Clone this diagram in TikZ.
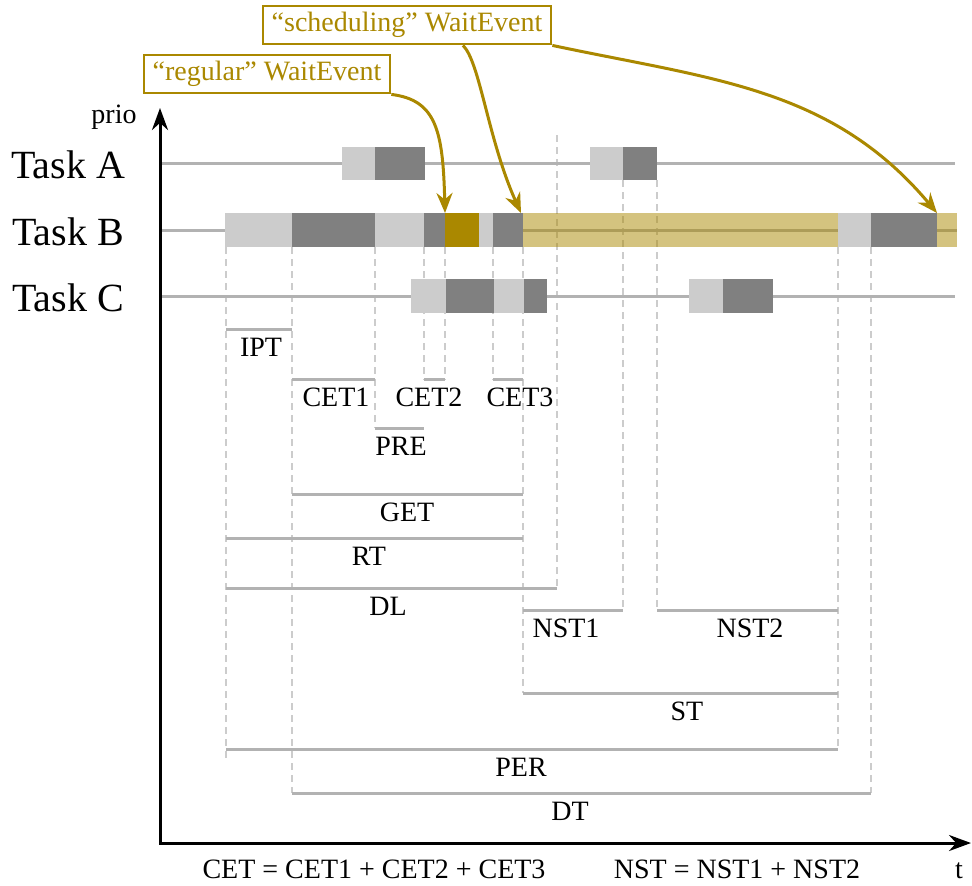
\documentclass[tikz,border=0pt]{standalone}
\usepackage{fontspec}
\setmainfont{Liberation Serif}
\usetikzlibrary{arrows.meta,positioning}
\definecolor{waitgold}{RGB}{170,136,0}
\definecolor{readygray}{RGB}{204,204,204}
\definecolor{rungray}{RGB}{128,128,128}

\begin{document}
\begin{tikzpicture}[x=0.5pt,y=-0.5pt,
    lbl/.style={font=\fontsize{14}{16}\selectfont,inner sep=0pt},
    task/.style={font=\fontsize{20}{24}\selectfont,inner sep=0pt},
    idle/.style={black!30,line width=1.5pt},
    span/.style={black!30,line width=1.5pt},
    guide/.style={black!20,line width=0.75pt,dash pattern=on 3.5pt off 2.5pt},
    event/.style={draw=waitgold,line width=1pt,fill=white,text=waitgold,font=\fontsize{14}{16}\selectfont,minimum height=18pt,inner xsep=4.5pt},
    arr/.style={-{Stealth[length=10pt,width=8pt]},waitgold,line width=1.5pt},
    axis/.style={{Stealth[length=11pt,width=8pt]}-{Stealth[length=11pt,width=8pt]},line width=1.5pt}]
  \useasboundingbox (0,0) rectangle (972,885);
  % guides
  \foreach \x/\ya/\yb in {226/247/760,292/247/793,375/247/428,424/247/380,445/247/380,493/247/380,
      523/247/693,557/135/588,623/180/610,657/180/610,838/247/750,871/247/793}
    \draw[guide] (\x,\ya) -- (\x,\yb);
  % tasks
  \draw[idle] (160,163) -- (955,163);
  \draw[idle] (160,230) -- (957,230);
  \draw[idle] (160,296) -- (955,296);
  \foreach \a/\b/\c in {342/375/readygray,375/425/rungray,590/623/readygray,623/657/rungray}
    \fill[\c] (\a,147) rectangle (\b,180);
  \foreach \a/\b/\c in {225/292/readygray,292/375/rungray,375/424/readygray,424/445/rungray,
      445/479/waitgold,479/493/readygray,493/523/rungray,838/871/readygray,871/937/rungray}
    \fill[\c] (\a,213) rectangle (\b,247);
  \fill[waitgold,fill opacity=0.5] (523,213) rectangle (838,247);
  \fill[waitgold,fill opacity=0.5] (937,213) rectangle (957,247);
  \foreach \a/\b/\c in {411/446/readygray,446/494/rungray,494/524/readygray,524/547/rungray,
      689/723/readygray,723/773/rungray}
    \fill[\c] (\a,279) rectangle (\b,313);
  \node[task] (taskA) at (68,165) {Task A};
  \node[task] (taskB) at (68,232) {Task B};
  \node[task] (taskC) at (68,298) {Task C};
  % intervals
  \foreach \a/\b/\y/\lx/\t in {226/292/329/261/IPT,292/375/379/336/CET1,424/445/379/429/CET2,
      493/523/379/520/CET3,375/424/428/401/PRE,292/523/494/407/GET,226/523/538/369/RT,
      226/557/588/388/DL,523/623/610/566/NST1,657/838/610/750/NST2,523/838/693/687/ST,
      226/838/749/521/PER,292/871/793/570/DT}{
    \draw[span] (\a,\y) -- (\b,\y);
    \node[lbl] (\t) at (\lx,\y+18) {\t};
  }
  % axes
  \coordinate (ytip) at (160,108);
  \coordinate (xtip) at (971,843);
  \draw[axis] (ytip) |- (xtip);
  \node[lbl,anchor=base] (prio) at (114,123) {prio};
  \node[lbl,anchor=base] (time) at (959,878) {t};
  \node[lbl,anchor=base] (cetsum) at (374,878) {CET = CET1 + CET2 + CET3};
  \node[lbl,anchor=base] (nstsum) at (737,878) {NST = NST1 + NST2};
  % wait events
  \node[event] (regular) at (267,74) {“regular” WaitEvent};
  \node[event] (sched) at (407,25) {“scheduling” WaitEvent};
  \coordinate (hitA) at (445,213);
  \coordinate (hitB) at (521,213);
  \coordinate (hitC) at (937,213);
  \draw[arr] (regular.south east) .. controls (436,100) and (443,130) .. (hitA);
  \draw[arr] ([xshift=28pt]sched.south) .. controls (480,62) and (488,140) .. (hitB);
  \draw[arr] (sched.south east) to[out=-12,in=130] (hitC);
\end{tikzpicture}
\end{document}
